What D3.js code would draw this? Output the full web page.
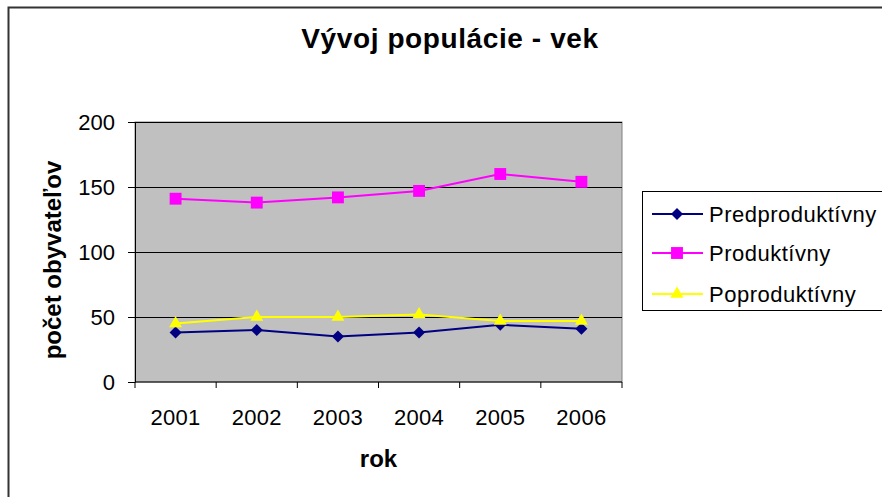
<!DOCTYPE html>
<html>
<head>
<meta charset="utf-8">
<script src="https://cdn.jsdelivr.net/npm/d3@7"></script>
<style>
  body { margin: 0; background: #fff; }
  svg { display: block; font-family: "Liberation Sans", Arial, sans-serif; }
</style>
</head>
<body>
<div id="chart"></div>
<script>
(function() {
  var years = ['2001', '2002', '2003', '2004', '2005', '2006'];
  var predprod = [38, 40, 35, 38, 44, 41];
  var prod = [141, 138, 142, 147, 160, 154];
  var poprod = [45, 50, 50, 52, 47, 47];
  var yTicks = [0, 50, 100, 150, 200];
  var seriesNames = ['Predproduktívny', 'Produktívny', 'Poproduktívny'];

  var width = 882, height = 497;
  var left = 135, right = 622, top = 122, bottom = 382;

  var series = [
    { name: seriesNames[0], values: predprod, color: '#000080', symbol: d3.symbolDiamond2, size: 92 },
    { name: seriesNames[1], values: prod, color: '#ff00ff', symbol: d3.symbolSquare2, size: 180 },
    { name: seriesNames[2], values: poprod, color: '#ffff00', symbol: d3.symbolTriangle2, size: 120 }
  ];

  var svg = d3.select('#chart').append('svg')
    .attr('width', width)
    .attr('height', height);

  // outer frame (only left and top edges visible)
  svg.append('rect')
    .attr('x', 8.5).attr('y', 7.5)
    .attr('width', 900).attr('height', 520)
    .attr('fill', '#fff')
    .attr('stroke', '#333').attr('stroke-width', 2);

  var x = d3.scaleBand().domain(years).range([left, right]).padding(0);
  var y = d3.scaleLinear().domain([0, 200]).range([bottom, top]);

  // plot area
  svg.append('rect')
    .attr('x', left).attr('y', top)
    .attr('width', right - left).attr('height', bottom - top)
    .attr('fill', '#c0c0c0')
    .attr('stroke', '#808080').attr('stroke-width', 1);

  // gridlines
  svg.append('g')
    .attr('transform', 'translate(' + left + ',0)')
    .call(d3.axisLeft(y).tickValues(yTicks.slice(1)).tickSize(-(right - left)).tickFormat(''))
    .call(function(g) {
      g.select('.domain').remove();
      g.selectAll('line').attr('stroke', '#000').attr('stroke-width', 1);
    });

  // y axis
  svg.append('g')
    .attr('transform', 'translate(' + left + ',0)')
    .call(d3.axisLeft(y).tickValues(yTicks).tickSize(7).tickSizeOuter(0).tickPadding(13))
    .call(function(g) {
      g.select('.domain').attr('stroke', '#000');
      g.selectAll('line').attr('stroke', '#000');
      g.selectAll('text')
        .attr('font-size', '22px')
        .attr('font-family', '"Liberation Sans", Arial, sans-serif')
        .attr('fill', '#000');
    });

  // x axis line and boundary ticks
  var xg = svg.append('g');
  xg.append('line')
    .attr('x1', left).attr('x2', right)
    .attr('y1', bottom).attr('y2', bottom)
    .attr('stroke', '#000');
  xg.selectAll('line.tick')
    .data(years.concat(['end']))
    .enter().append('line')
    .attr('class', 'tick')
    .attr('x1', function(d) { return d === 'end' ? right : x(d); })
    .attr('x2', function(d) { return d === 'end' ? right : x(d); })
    .attr('y1', bottom).attr('y2', bottom + 6)
    .attr('stroke', '#000');
  xg.selectAll('text')
    .data(years)
    .enter().append('text')
    .attr('x', function(d) { return x(d) + x.bandwidth() / 2; })
    .attr('y', 425)
    .attr('text-anchor', 'middle')
    .attr('font-size', '22px')
    .attr('letter-spacing', '0.3px')
    .text(function(d) { return d; });

  // lines and markers
  var line = d3.line()
    .x(function(d, i) { return x(years[i]) + x.bandwidth() / 2; })
    .y(function(d) { return y(d); });

  series.forEach(function(s) {
    svg.append('path')
      .datum(s.values)
      .attr('d', line)
      .attr('fill', 'none')
      .attr('stroke', s.color)
      .attr('stroke-width', 2);
    svg.selectAll(null)
      .data(s.values)
      .enter().append('path')
      .attr('d', d3.symbol().type(s.symbol).size(s.size))
      .attr('transform', function(d, i) {
        return 'translate(' + (x(years[i]) + x.bandwidth() / 2) + ',' + y(d) + ')';
      })
      .attr('fill', s.color);
  });

  // title
  svg.append('text')
    .attr('x', 450).attr('y', 48)
    .attr('text-anchor', 'middle')
    .attr('font-size', '28px')
    .attr('font-weight', 'bold')
    .attr('letter-spacing', '0.6px')
    .text('Vývoj populácie - vek');

  // axis titles
  svg.append('text')
    .attr('x', (left + right) / 2).attr('y', 467)
    .attr('text-anchor', 'middle')
    .attr('font-size', '24px')
    .attr('font-weight', 'bold')
    .text('rok');

  svg.append('text')
    .attr('transform', 'translate(61,260) rotate(-90)')
    .attr('text-anchor', 'middle')
    .attr('font-size', '24px')
    .attr('font-weight', 'bold')
    .text('počet obyvateľov');

  // legend
  var legend = svg.append('g');
  legend.append('rect')
    .attr('x', 642.5).attr('y', 191.5)
    .attr('width', 260).attr('height', 119)
    .attr('fill', '#fff')
    .attr('stroke', '#000').attr('stroke-width', 1);

  var rowY = [214, 253, 294];
  series.forEach(function(s, i) {
    legend.append('line')
      .attr('x1', 652).attr('x2', 703)
      .attr('y1', rowY[i]).attr('y2', rowY[i])
      .attr('stroke', s.color).attr('stroke-width', 2);
    legend.append('path')
      .attr('d', d3.symbol().type(s.symbol).size(s.size))
      .attr('transform', 'translate(677,' + rowY[i] + ')')
      .attr('fill', s.color);
    legend.append('text')
      .attr('x', 709).attr('y', rowY[i] + 8)
      .attr('font-size', '22px')
      .attr('letter-spacing', '0.5px')
      .text(s.name);
  });
}).call(this);
</script>
</body>
</html>
